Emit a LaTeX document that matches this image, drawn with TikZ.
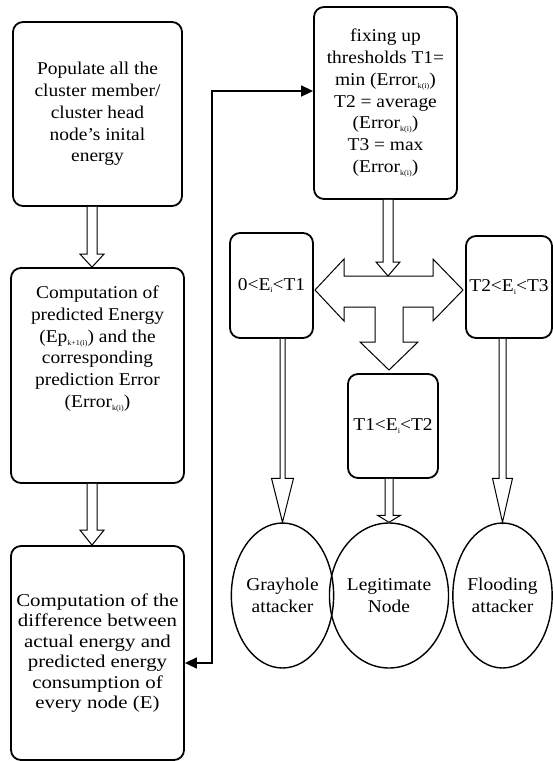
\documentclass[tikz,border=0pt]{standalone}
\usepackage{fontspec}
\setmainfont{Liberation Serif}[FakeStretch=1.08]
\newfontfamily\widefont{Liberation Serif}[FakeStretch=1.16]
\usetikzlibrary{arrows.meta,calc,shapes.geometric}

\newcommand{\sbs}[1]{\raisebox{-0.35ex}{\fontsize{7.5}{7.5}\selectfont #1}}
\newcommand{\hollowarrow}[5]{%
  \draw[blockarrow] let \p1=(#1), \p2=(#2) in
    (\x1-#3,\y1) -- (\x1-#3,\y2+#5) -- (\x1-#4,\y2+#5) -- (\x1,\y2)
    -- (\x1+#4,\y2+#5) -- (\x1+#3,\y2+#5) -- (\x1+#3,\y1);}

\tikzset{
  box/.style={draw, line width=1.8pt, rounded corners=10pt, align=center, inner sep=2pt},
  txt/.style={font=\fontsize{18}{21.7}\selectfont},
  oval/.style={draw, line width=1.4pt, ellipse, inner sep=0pt, align=center, font=\fontsize{18}{21.7}\selectfont},
  blockarrow/.style={draw, line width=1pt, fill=white, line join=miter},
  fb/.style={line width=1.6pt, {Triangle[length=12pt,width=11pt]}-{Triangle[length=12pt,width=11pt]}},
}

\begin{document}
\begin{tikzpicture}[x=1pt,y=-1pt]
\useasboundingbox (0,0) rectangle (553,761);

% left column
\node[box, txt, minimum width=169pt, minimum height=184pt] (b1) at (97.5,114)
  {Populate all the\\cluster member/\\cluster head\\node's inital\\energy};
\node[box, minimum width=173pt, minimum height=215pt] (b2) at (97.5,375.5) {};
\node[txt, align=center] (b2t) at (97.5,349)
  {Computation of\\predicted Energy\\(Ep\sbs{k+1(i)}) and the\\corresponding\\prediction Error\\(Error\sbs{k(i)})};
\node[box, minimum width=173pt, minimum height=214pt, font=\widefont\fontsize{18}{20.4}\selectfont] (b3) at (97.5,653)
  {Computation of the\\difference between\\actual energy and\\predicted energy\\consumption of\\every node (E)};

% right part
\node[box, txt, minimum width=143pt, minimum height=192pt] (b4) at (385.5,103)
  {fixing up\\thresholds T1=\\min (Error\sbs{k(i)})\\T2 = average\\(Error\sbs{k(i)})\\T3 = max\\(Error\sbs{k(i)})};
\node[box, txt, minimum width=83pt, minimum height=105pt] (s1) at (271.5,285.5) {0<E\sbs{i}<T1};
\node[box, txt, minimum width=86pt, minimum height=102pt] (s3) at (509,287) {T2<E\sbs{i}<T3};
\node[box, txt, minimum width=90pt, minimum height=104pt] (s2) at (393,426) {T1<E\sbs{i}<T2};

\node[oval, minimum width=91pt, minimum height=145pt] (e1) at (282.5,595.5) {Grayhole\\attacker};
\node[oval, minimum width=102pt, minimum height=145pt] (e2) at (389,595.5) {Legitimate\\Node};
\node[oval, minimum width=91pt, minimum height=145pt] (e3) at (502.5,595.5) {Flooding\\attacker};

% feedback connector
\coordinate (fbot) at (212,663);
\coordinate (ftop) at (212,91);
\draw[fb] (fbot -| b3.east) -- (fbot) -- (ftop) -- (ftop -| b4.west);

% hollow arrows, left column
\hollowarrow{$(b1.south)+(-5.5,0)$}{$(b2.north)+(-5.5,0)$}{5pt}{12pt}{13pt}
\hollowarrow{$(b2.south)+(-5.5,0)$}{$(b3.north)+(-5.5,0)$}{5pt}{12pt}{15pt}

% T-shaped split arrow
\draw[blockarrow] (315,290) -- (344,259) -- (344,276) -- (433,276) -- (433,259) -- (463,290)
  -- (433,321) -- (433,307) -- (403,307) -- (403,342) -- (418,342) -- (389,370)
  -- (360,342) -- (375,342) -- (375,307) -- (344,307) -- (344,321) -- cycle;
\coordinate (teetop) at (388,276);
\hollowarrow{b4.south -| teetop}{teetop}{5pt}{12pt}{14pt}

% arrows to the ellipses
\hollowarrow{s1.south -| e1.north}{e1.north}{2.5pt}{11pt}{44pt}
\hollowarrow{s2.south -| e2.north}{e2.north}{4pt}{11.5pt}{7pt}
\hollowarrow{s3.south -| e3.north}{e3.north}{3.5pt}{10pt}{44pt}
\end{tikzpicture}
\end{document}
